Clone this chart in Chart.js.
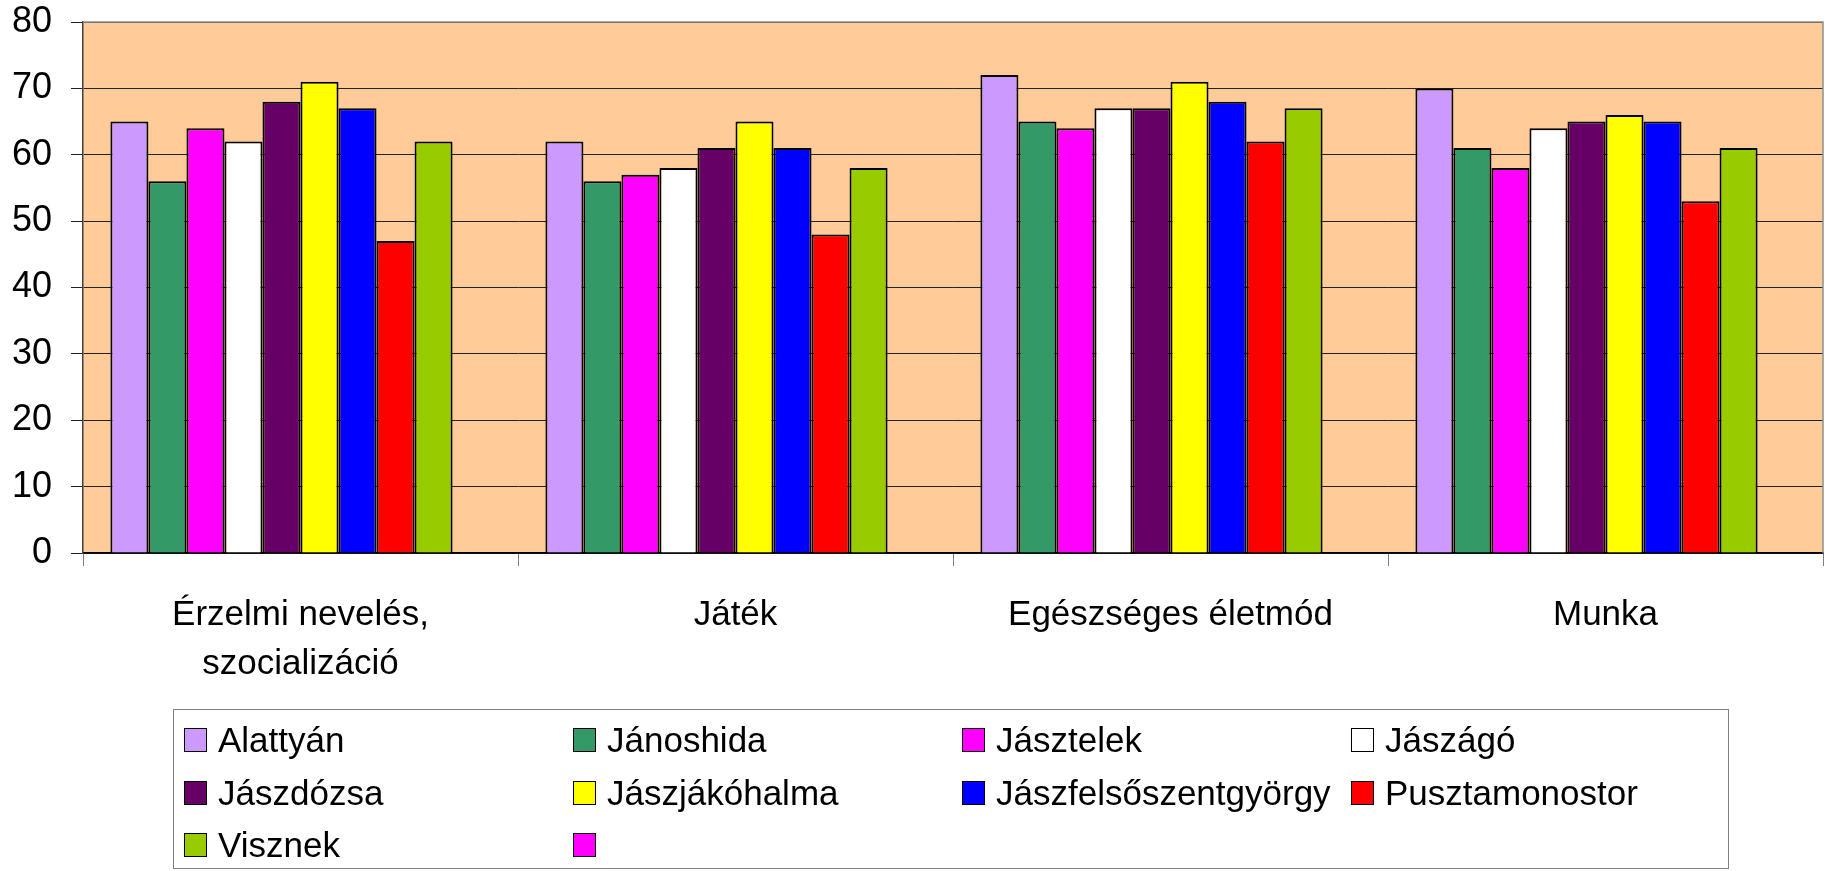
<!DOCTYPE html>
<html>
<head>
<meta charset="utf-8">
<script src="https://cdn.jsdelivr.net/npm/chart.js@4.4.1/dist/chart.umd.min.js"></script>
<style>
  html, body { margin: 0; padding: 0; background: #fff; }
  #wrap { position: relative; width: 1825px; height: 871px; }
  #legend {
    position: absolute; left: 173px; top: 709px; width: 1556px; height: 160px;
    border: 1px solid #808080; box-sizing: border-box;
    display: grid; grid-template-columns: repeat(4, 389px); grid-auto-rows: 52.5px;
    padding: 4px 0 0 10px;
    font-family: "Liberation Sans", Arial, sans-serif; font-size: 35px; color: #000;
  }
  .item { display: flex; align-items: center; white-space: nowrap; }
  .box { width: 21px; height: 22px; border: 1px solid #000; margin-right: 11px; flex: none; }
</style>
</head>
<body>
<div id="wrap">
  <canvas id="chart" width="1825" height="871"></canvas>
  <div id="legend"></div>
</div>
<script>
const FONT = '"Liberation Sans", Arial, sans-serif';

const categories = [['Érzelmi nevelés,', 'szocializáció'], 'Játék', 'Egészséges életmód', 'Munka'];
const seriesNames = ['Alattyán', 'Jánoshida', 'Jásztelek', 'Jászágó', 'Jászdózsa',
  'Jászjákóhalma', 'Jászfelsőszentgyörgy', 'Pusztamonostor', 'Visznek', ''];
const seriesColors = ['#CC99FF', '#339966', '#FF00FF', '#FFFFFF', '#660066',
  '#FFFF00', '#0000FF', '#FF0000', '#99CC00', '#FF00FF'];

// one array per settlement, in category order
const alattyan = [65, 62, 72, 70];
const janoshida = [56, 56, 65, 61];
const jasztelek = [64, 57, 64, 58];
const jaszago = [62, 58, 67, 64];
const jaszdozsa = [68, 61, 67, 65];
const jaszjakohalma = [71, 65, 71, 66];
const jaszfelso = [67, 61, 68, 65];
const pusztamonostor = [47, 48, 62, 53];
const visznek = [62, 58, 67, 61];
const empty = [null, null, null, null];

const seriesValues = [alattyan, janoshida, jasztelek, jaszago, jaszdozsa,
  jaszjakohalma, jaszfelso, pusztamonostor, visznek, empty];

const yTicks = [0, 10, 20, 30, 40, 50, 60, 70, 80];

// plot background + gray frame on top/right
const plotFrame = {
  id: 'plotFrame',
  beforeDraw(chart) {
    const { ctx, chartArea: a } = chart;
    ctx.save();
    ctx.fillStyle = '#FFCC99';
    ctx.fillRect(a.left, a.top, a.right - a.left, a.bottom - a.top);
    ctx.restore();
  },
  beforeDatasetsDraw(chart) {
    const { ctx, chartArea: a } = chart;
    ctx.save();
    ctx.strokeStyle = '#909090';
    ctx.lineWidth = 1.5;
    ctx.beginPath();
    ctx.moveTo(a.left, a.top);
    ctx.lineTo(a.right, a.top);
    ctx.lineTo(a.right, a.bottom);
    ctx.stroke();
    ctx.restore();
  }
};

const chart = new Chart(document.getElementById('chart'), {
  type: 'bar',
  data: {
    labels: categories,
    datasets: seriesNames.map((name, i) => ({
      label: name,
      data: seriesValues[i],
      backgroundColor: seriesColors[i],
      borderColor: '#000',
      borderWidth: 2,
      categoryPercentage: 0.874,
      barPercentage: 1
    }))
  },
  options: {
    responsive: false,
    animation: false,
    layout: { padding: { top: 22, right: 2, left: 0, bottom: 0 } },
    plugins: {
      legend: { display: false },
      tooltip: { enabled: false }
    },
    scales: {
      x: {
        grid: { offset: true, drawOnChartArea: false, drawTicks: true, tickLength: 13, color: '#808080' },
        border: { color: '#000', width: 1.5 },
        ticks: {
          font: { family: FONT, size: 35, lineHeight: 1.4 },
          color: '#000', padding: 25, maxRotation: 0, autoSkip: false
        },
        afterFit: (s) => { s.height = 318; }
      },
      y: {
        min: 0, max: 80,
        afterBuildTicks: (s) => { s.ticks = yTicks.map(v => ({ value: v })); },
        ticks: { font: { family: FONT, size: 36 }, color: '#000', padding: 19 },
        grid: { color: '#222', lineWidth: 1, tickLength: 12, drawTicks: true },
        border: { color: '#404040', width: 1.5 },
        afterFit: (s) => { s.width = 83; s.paddingTop = 0; s.paddingBottom = 0; }
      }
    }
  },
  plugins: [plotFrame]
});

// legend laid out in four fixed columns like the original
const legendEl = document.getElementById('legend');
chart.data.datasets.forEach((ds) => {
  const item = document.createElement('div');
  item.className = 'item';
  const box = document.createElement('span');
  box.className = 'box';
  box.style.background = ds.backgroundColor;
  item.appendChild(box);
  item.appendChild(document.createTextNode(ds.label));
  legendEl.appendChild(item);
});
</script>
</body>
</html>
